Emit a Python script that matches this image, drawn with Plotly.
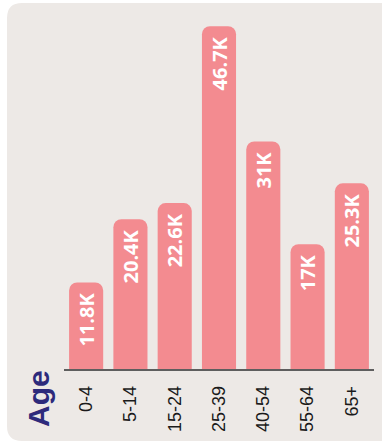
import plotly.graph_objects as go

# Population by age band (thousands)
age_groups = ["0-4", "5-14", "15-24", "25-39", "40-54", "55-64", "65+"]
population_k = [11.8, 20.4, 22.6, 46.7, 31, 17, 25.3]

W, H = 382, 445
BAR_COLOR = "#F38B90"
CARD_COLOR = "#EDE9E6"


def px(x):
    return x / W


def py(y):
    return 1 - y / H


def rounded_card(x0, y0, x1, y1, r):
    # rounded rectangle in paper coordinates from pixel bounds
    pts = [
        f"M {px(x0 + r)},{py(y0)}",
        f"L {px(x1 - r)},{py(y0)}",
        f"Q {px(x1)},{py(y0)} {px(x1)},{py(y0 + r)}",
        f"L {px(x1)},{py(y1 - r)}",
        f"Q {px(x1)},{py(y1)} {px(x1 - r)},{py(y1)}",
        f"L {px(x0 + r)},{py(y1)}",
        f"Q {px(x0)},{py(y1)} {px(x0)},{py(y1 - r)}",
        f"L {px(x0)},{py(y0 + r)}",
        f"Q {px(x0)},{py(y0)} {px(x0 + r)},{py(y0)}",
        "Z",
    ]
    return " ".join(pts)


fig = go.Figure(
    go.Bar(
        x=age_groups,
        y=population_k,
        marker=dict(color=BAR_COLOR, line=dict(width=0)),
        texttemplate="%{y}K\u00a0",
        textposition="inside",
        insidetextanchor="end",
        textangle=-90,
        insidetextfont=dict(family="Open Sans", size=20, color="white", weight="bold"),
        cliponaxis=False,
        hoverinfo="skip",
    )
)

fig.update_layout(
    width=W,
    height=H,
    margin=dict(l=0, r=0, t=0, b=0),
    paper_bgcolor="white",
    plot_bgcolor="rgba(0,0,0,0)",
    bargap=0.23,
    barcornerradius=8,
    showlegend=False,
    uniformtext=dict(mode=False),
    shapes=[
        dict(
            type="path",
            xref="paper",
            yref="paper",
            path=rounded_card(7, 3, 400, 441, 15),
            fillcolor=CARD_COLOR,
            line=dict(width=0),
            layer="below",
        )
    ],
    annotations=[
        dict(
            text="<b>Age</b>",
            xref="paper",
            yref="paper",
            x=px(38),
            y=py(399),
            xanchor="center",
            yanchor="middle",
            textangle=-90,
            showarrow=False,
            font=dict(family="Liberation Sans", size=30, color="#2D2A7B"),
        )
    ],
    xaxis=dict(
        domain=[px(64), px(374)],
        range=[-0.5, 6.5],
        tickangle=-90,
        tickfont=dict(family="Liberation Sans", size=18, color="#1A1A1A"),
        ticks="outside",
        ticklen=8,
        tickcolor="rgba(0,0,0,0)",
        showline=True,
        linecolor="#5E5E5E",
        linewidth=1.5,
        showgrid=False,
        zeroline=False,
        fixedrange=True,
    ),
    yaxis=dict(
        domain=[py(369), py(2)],
        range=[0, 50],
        visible=False,
        showgrid=False,
        zeroline=False,
        fixedrange=True,
    ),
)

fig.write_html("out.html")
